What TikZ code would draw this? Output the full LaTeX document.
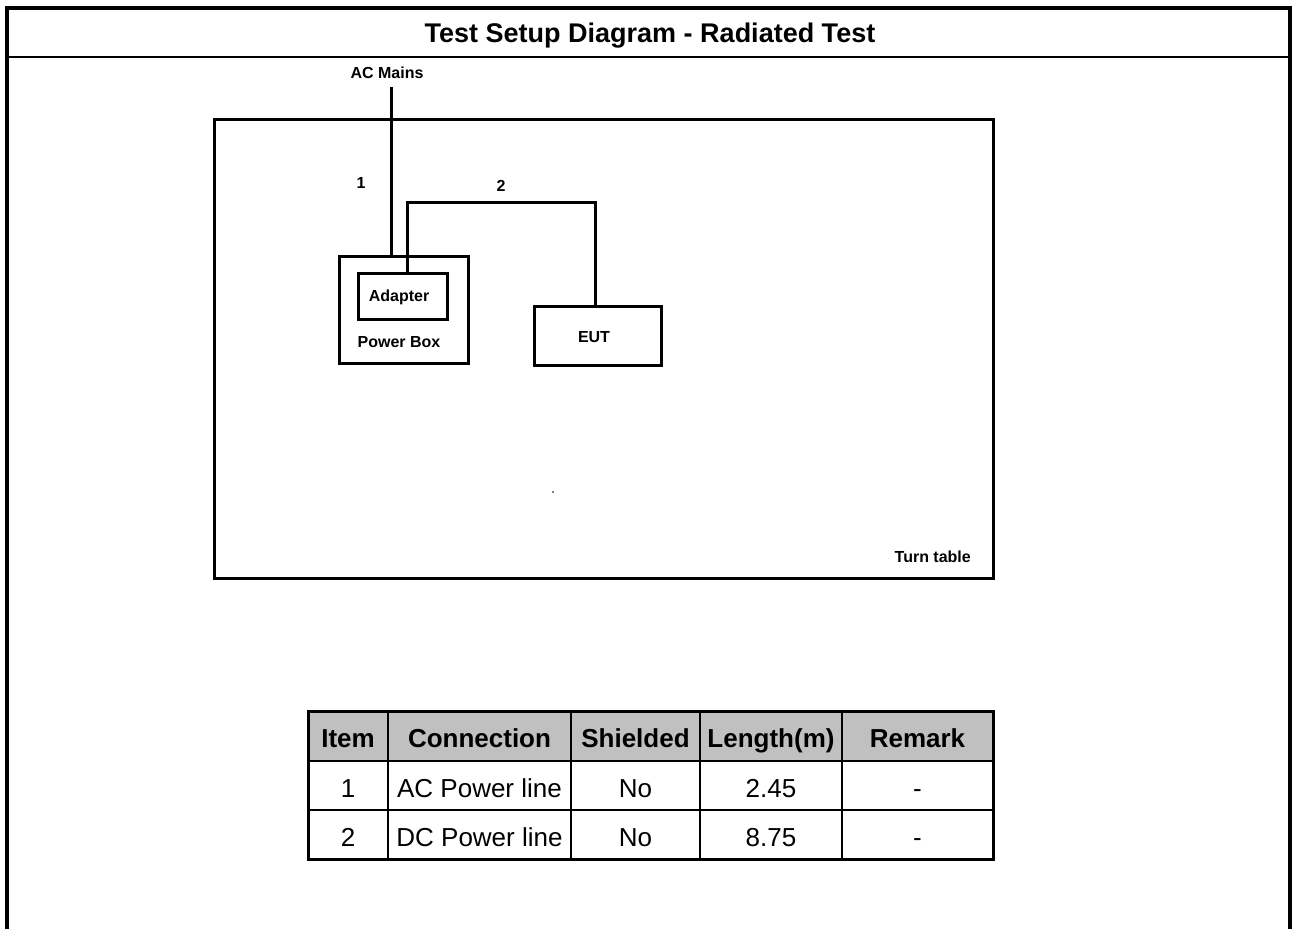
\documentclass[tikz,border=0pt]{standalone}
\usepackage{fontspec}
\setmainfont{Liberation Sans}
\usepackage{xcolor}
\definecolor{hdrgray}{RGB}{192,192,192}

\begin{document}
\begin{tikzpicture}[x=1pt,y=-1pt,
    box/.style={draw,line width=3pt,inner sep=0pt},
    cable/.style={line width=3pt},
    lbl/.style={inner sep=0pt,text depth=0pt,text height=11.5pt,font=\fontsize{16}{18}\selectfont\bfseries},
    title/.style={inner sep=0pt,text depth=0pt,text height=19.3pt,font=\fontsize{27}{30}\selectfont\bfseries},
    hdr/.style={inner sep=0pt,text depth=0pt,text height=18.6pt,font=\fontsize{26}{30}\selectfont\bfseries},
    cell/.style={inner sep=0pt,text depth=0pt,text height=18.6pt,font=\fontsize{26}{30}\selectfont}]
    \useasboundingbox (0,0) rectangle (1293,929);

    % Outer frame and title row
    \draw[line width=4pt] (7,929) -- (7,8) -- (1289.5,8) -- (1289.5,929);
    \draw[line width=2pt] (7,57) -- (1289.5,57);
    \node[title] (heading) at (650,33) {Test Setup Diagram - Radiated Test};

    % Turn table
    \node[box,minimum width=779pt,minimum height=459pt] (turntable) at (604,348.5) {};
    \node[lbl,anchor=east] (ttlabel) at (971,557) {Turn table};

    % Power box with adapter
    \node[box,minimum width=129pt,minimum height=107pt] (powerbox) at (403.5,309.5) {};
    \node[box,minimum width=89pt,minimum height=46pt] (adapter) at (402.5,296) {};
    \node[lbl] (adtext) at (399,296) {Adapter};
    \node[lbl] (pbtext) at (399,342) {Power Box};

    % EUT
    \node[box,minimum width=127pt,minimum height=59pt] (eut) at (597.5,335.5) {};
    \node[lbl] (euttext) at (594,337) {EUT};

    % Cables
    \coordinate (mains) at (391.7,87);
    \node[lbl] (acmains) at (387,73) {AC Mains};
    \draw[cable] (mains) -- (mains |- powerbox.north);
    \node[lbl] (one) at (361,183) {1};
    \draw[cable] ([xshift=4.5pt]adapter.north) -- ++(0,-69) -| ([xshift=-2.5pt]eut.north);
    \node[lbl] (two) at (501,186) {2};

    \fill (553,492) circle (0.8pt);

    % Cable table
    \fill[hdrgray] (308,711) rectangle (993,761);
    \foreach \y in {761,810} {
      \draw[line width=2.5pt] (308,\y) -- (993,\y);
    }
    \foreach \x in {388,571,700,842} {
      \draw[line width=2.5pt] (\x,711) -- (\x,859);
    }
    \draw[line width=3pt] (308,711) rectangle (993,859);

    \foreach \x/\t [count=\i] in {348/Item, 479.5/Connection, 635.5/Shielded, 771/Length(m), 917.5/Remark} {
      \node[hdr] (h\i) at (\x,738) {\t};
    }
    \foreach \x/\t [count=\i] in {348/1, 479.5/AC Power line, 635.5/No, 771/2.45, 917.5/-} {
      \node[cell] (a\i) at (\x,788) {\t};
    }
    \foreach \x/\t [count=\i] in {348/2, 479.5/DC Power line, 635.5/No, 771/8.75, 917.5/-} {
      \node[cell] (b\i) at (\x,837) {\t};
    }
\end{tikzpicture}
\end{document}
